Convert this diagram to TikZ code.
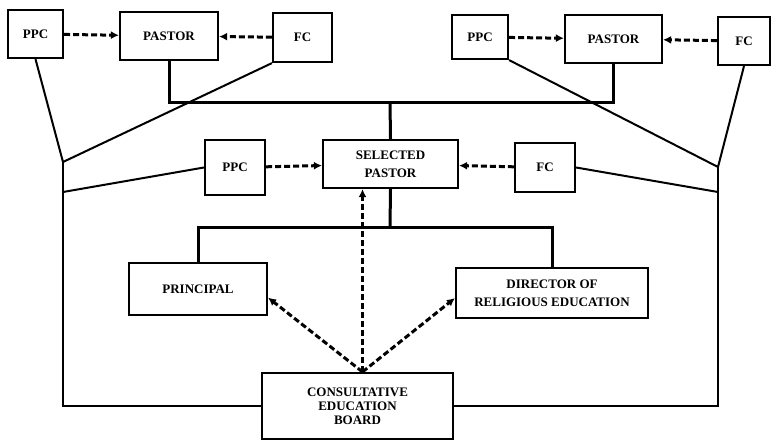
\documentclass[tikz,border=0pt]{standalone}
\usepackage{fontspec}
\setmainfont{Liberation Serif}
\usetikzlibrary{arrows.meta, calc}

\begin{document}
\begin{tikzpicture}[x = 1pt, y = -1pt, line width = 2pt, font = \bfseries\fontsize{13}{14}\selectfont,
    every node/.style = { draw, rectangle, line width = 2.2pt, align = center, inner sep = 2pt },
    dasharrow/.style = { line width = 3pt, dash pattern = on 6pt off 3pt, -{Latex[length = 8pt, width = 8pt]} },
    bar/.style = { line width = 3pt }]
  \useasboundingbox (0, 0) rectangle (773, 442);

  \node [minimum width = 55pt, minimum height = 48pt] (ppcA) at (35.5, 34) {PPC};
  \node [minimum width = 98pt, minimum height = 48pt] (pastorA) at (169, 36) {PASTOR};
  \node [minimum width = 59pt, minimum height = 49pt] (fcA) at (302.5, 37.5) {FC};
  \node [minimum width = 56pt, minimum height = 44pt] (ppcB) at (480, 37) {PPC};
  \node [minimum width = 97pt, minimum height = 48pt] (pastorB) at (613.5, 39) {PASTOR};
  \node [minimum width = 52pt, minimum height = 48pt] (fcB) at (744, 41) {FC};
  \node [minimum width = 60pt, minimum height = 55pt] (ppcC) at (235, 167.5) {PPC};
  \node [minimum width = 135pt, minimum height = 48pt] (selected) at (390.5, 164) {SELECTED\\[4pt]PASTOR};
  \node [minimum width = 60pt, minimum height = 49pt] (fcC) at (545, 167.5) {FC};
  \node [minimum width = 138pt, minimum height = 52pt] (principal) at (198, 289) {PRINCIPAL};
  \node [minimum width = 192pt, minimum height = 50pt] (director) at (552, 293) {DIRECTOR OF\\[4pt]RELIGIOUS EDUCATION};
  \node [minimum width = 191pt, minimum height = 66pt] (board) at (357.5, 406) {CONSULTATIVE\\EDUCATION\\BOARD};

  \coordinate (left) at (63, 162);
  \coordinate (leftlow) at (63, 192);
  \coordinate (right) at (718, 167);
  \coordinate (rightlow) at (718, 192);
  \coordinate (top) at (390, 102);
  \coordinate (low) at (390, 227);
  \coordinate (source) at ($(board.north) + (5, 0)$);

  % parish links
  \draw (ppcA.south) -- (left) -- (fcA.south west);
  \draw (ppcC.west) -- (leftlow);
  \draw (left) |- (board.west);
  \draw (ppcB.south east) -- (right) -- (fcB.south);
  \draw (fcC.east) -- (rightlow);
  \draw (right) |- (board.east);

  \draw [bar] (pastorA.south) |- (top) -| (pastorB.south);
  \draw [bar] (top) -- (selected.north);
  \draw [bar] (principal.north) |- (low) -| (director.north);
  \draw [bar] (selected.south) -- (low);

  % advice
  \draw [dasharrow] (ppcA) -- (pastorA);
  \draw [dasharrow] (fcA) -- (pastorA);
  \draw [dasharrow] (ppcB) -- (pastorB);
  \draw [dasharrow] (fcB) -- (pastorB);
  \draw [dasharrow] (ppcC) -- (selected);
  \draw [dasharrow] (fcC) -- (selected);
  \draw [dasharrow] (source) -- (principal.-7);
  \draw [dasharrow] (source) -- (director.183);
  \draw [dasharrow] (source) -- (source |- selected.south);
\end{tikzpicture}
\end{document}
